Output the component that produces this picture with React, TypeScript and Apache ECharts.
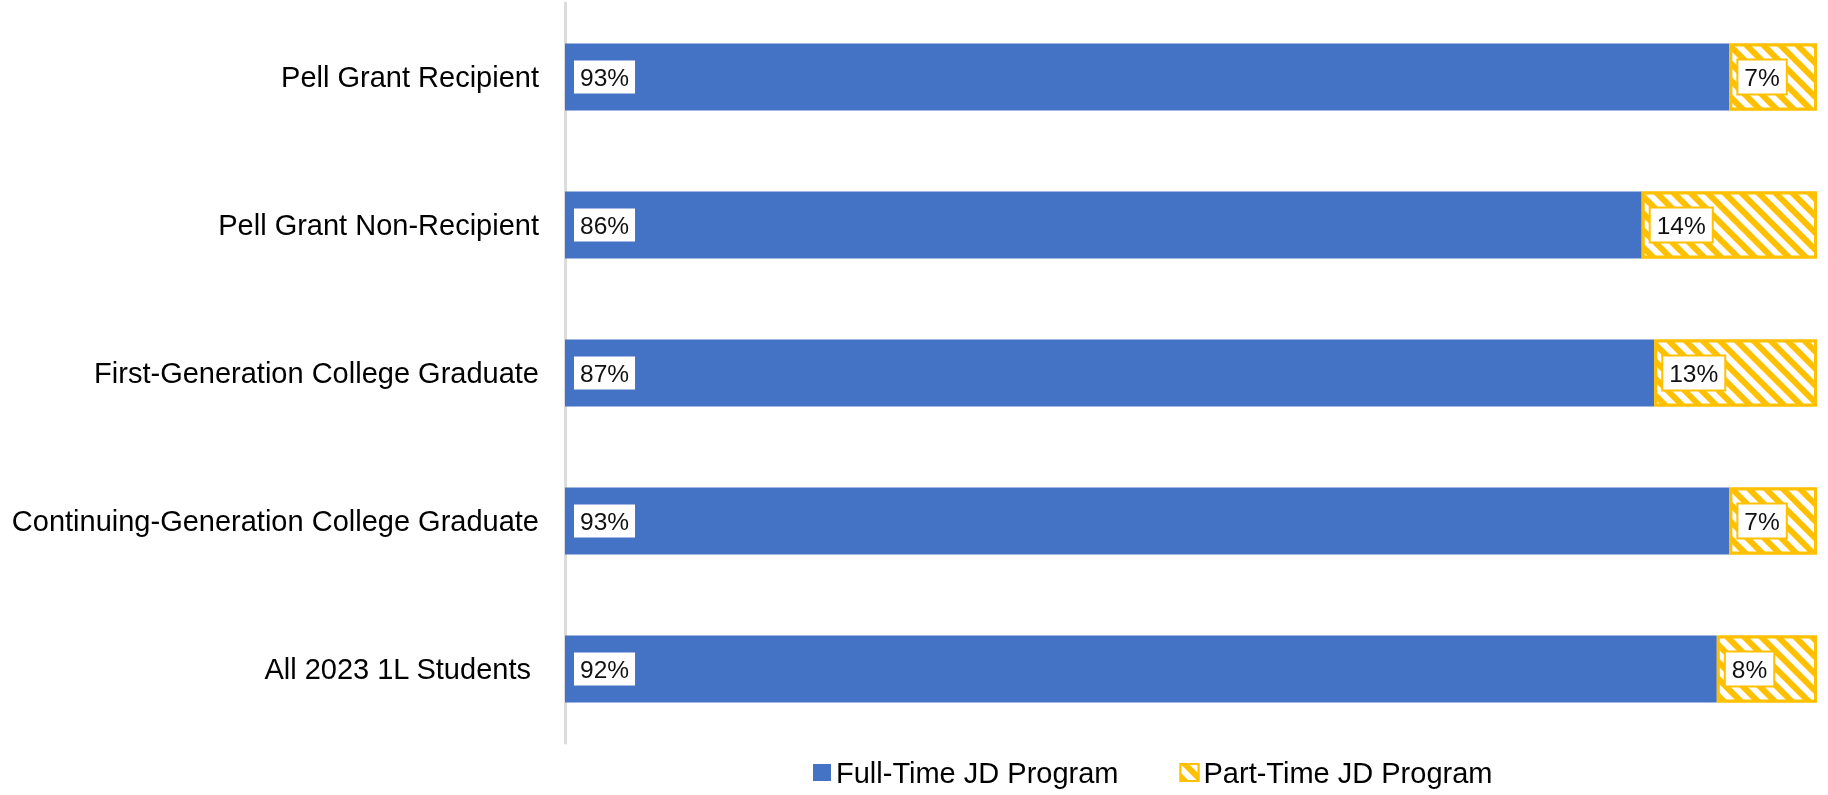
import React, { useEffect, useRef } from "react";
import * as echarts from "echarts";

const categories = [
  "Pell Grant Recipient",
  "Pell Grant Non-Recipient",
  "First-Generation College Graduate",
  "Continuing-Generation College Graduate",
  "All 2023 1L Students ",
];
const fullTime = [93, 86, 87, 93, 92];
const partTime = [7, 14, 13, 7, 8];
const seriesNames = ["Full-Time JD Program", "Part-Time JD Program"];

const BLUE = "#4472C4";
const GOLD = "#FFC000";
const FONT = "'Liberation Sans', Arial, sans-serif";

export default function App() {
  const ref = useRef<HTMLDivElement>(null);
  useEffect(() => {
    if (!ref.current) return;
    const chart = echarts.init(ref.current, null, { renderer: "svg" });
    const labelBase = {
      show: true,
      position: "insideLeft" as const,
      distance: 9,
      formatter: "{c}%",
      fontFamily: FONT,
      fontSize: 24.5,
      lineHeight: 25,
      color: "#111111",
      backgroundColor: "#ffffff",
      padding: [4, 6],
    };
    chart.setOption({
      animation: false,
      textStyle: { fontFamily: FONT },
      grid: { left: 565, right: 11, top: 3, height: 740, containLabel: false },
      xAxis: {
        type: "value",
        min: 0,
        max: 100,
        show: false,
      },
      yAxis: {
        type: "category",
        data: categories,
        inverse: true,
        axisLine: { show: true, lineStyle: { color: "#dcdcdc", width: 3 } },
        axisTick: { show: false },
        axisLabel: {
          margin: 26,
          fontFamily: FONT,
          fontSize: 29,
          color: "#000000",
        },
        splitLine: { show: false },
      },
      legend: {
        left: 808,
        top: 753,
        itemWidth: 18,
        itemHeight: 17,
        itemGap: 61,
        icon: "rect",
        textStyle: { fontFamily: FONT, fontSize: 29, color: "#000000" },
        data: seriesNames,
      },
      series: [
        {
          name: seriesNames[0],
          type: "bar",
          stack: "total",
          barWidth: 67,
          data: fullTime,
          itemStyle: { color: BLUE },
          label: { ...labelBase },
        },
        {
          name: seriesNames[1],
          type: "bar",
          stack: "total",
          barWidth: 67,
          data: partTime,
          itemStyle: {
            color: GOLD,
            borderColor: GOLD,
            borderWidth: 3,
            decal: {
              symbol: "rect",
              symbolSize: 1,
              color: "#ffffff",
              dashArrayX: [1, 0],
              dashArrayY: [6, 6],
              rotation: Math.PI / 4,
            },
          },
          label: { ...labelBase, borderColor: GOLD, borderWidth: 2 },
        },
      ],
    });
    return () => chart.dispose();
  }, []);
  return (
    <div
      ref={ref}
      style={{ position: "fixed", left: 0, top: 0, width: 1828, height: 795 }}
    />
  );
}
